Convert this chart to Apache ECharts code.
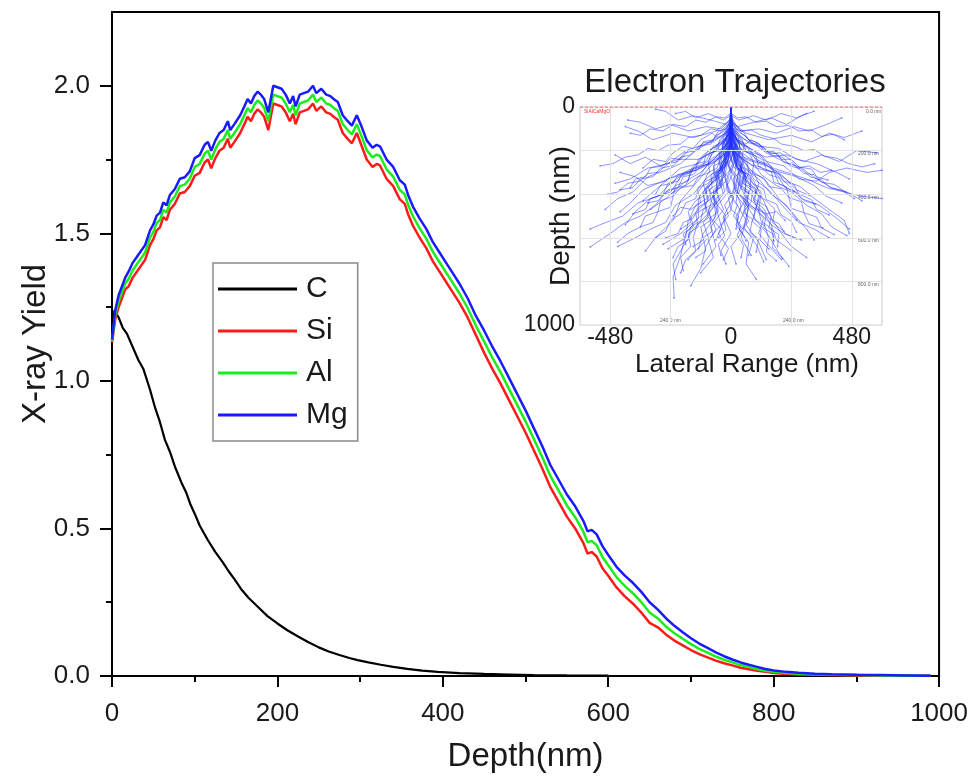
<!DOCTYPE html>
<html><head><meta charset="utf-8">
<script src="https://cdn.jsdelivr.net/npm/echarts@6/dist/echarts.min.js"></script>
<style>html,body{margin:0;padding:0;background:#fff}#c{width:971px;height:778px}</style>
</head><body><div id="c"></div>
<script>
// ---- main chart data ----
const depthC = [0,3,8,13,18,25,32,38,46,52,58,64,70,76,84,90,95,100,106,116,125,134,141,148,156,165,175,188,200,212,225,237,250,262,275,287,297,310,325,340,357,375,394,420,450,480,510,550,600];
const yieldC = [1.16,1.24,1.215,1.18,1.16,1.115,1.07,1.04,0.97,0.91,0.86,0.80,0.76,0.71,0.655,0.62,0.58,0.55,0.51,0.46,0.42,0.385,0.355,0.328,0.295,0.265,0.238,0.203,0.178,0.155,0.134,0.115,0.097,0.083,0.071,0.061,0.054,0.046,0.038,0.031,0.024,0.018,0.014,0.010,0.007,0.005,0.003,0.002,0.001];
const depthM = [0,4,8,12,16,20,25,30,35,40,46,50,54,58,62,66,70,76,82,88,94,100,106,112,116,120,125,130,135,140,143,148,155,160,164,168,172,176,180,184,189,195,200,205,210,215,219,222,227,232,237,243,247,253,259,264,268,273,279,285,290,296,302,308,315,320,324,332,340,348,354,358,364,372,380,388,396,404,412,420,430,440,450,460,470,480,490,500,510,520,530,540,550,560,570,575,580,586,593,600,610,620,630,640,650,660,670,680,690,700,710,720,730,740,750,760,770,780,790,800,815,830,850,870,900,930,960,990];
const yieldMg = [1.14,1.24,1.29,1.32,1.35,1.37,1.40,1.42,1.44,1.46,
1.51,1.53,1.56,1.57,1.605,1.595,1.63,1.65,1.685,1.69,
1.71,1.755,1.765,1.80,1.81,1.78,1.815,1.84,1.85,1.88,
1.85,1.87,1.90,1.93,1.955,1.94,1.965,1.98,1.97,1.955,
1.91,2.00,1.995,1.99,1.97,1.94,1.965,1.93,1.97,1.975,
1.98,2.00,1.975,1.99,1.97,1.965,1.955,1.945,1.90,1.88,
1.865,1.90,1.86,1.815,1.79,1.80,1.795,1.75,1.725,1.68,
1.665,1.63,1.59,1.55,1.515,1.47,1.435,1.40,1.365,1.33,
1.28,1.22,1.17,1.115,1.065,1.01,0.955,0.90,0.84,0.78,
0.715,0.665,0.615,0.575,0.525,0.49,0.495,0.48,0.44,0.41,
0.37,0.34,0.315,0.285,0.25,0.225,0.195,0.17,0.148,0.128,
0.11,0.095,0.08,0.067,0.056,0.046,0.038,0.031,0.024,0.019,
0.014,0.011,0.008,0.006,0.004,0.003,0.002,0.001];
const yieldAl = [1.135,1.225,1.27,1.30,1.33,1.345,1.375,1.395,1.415,1.435,
1.485,1.505,1.535,1.545,1.58,1.57,1.605,1.625,1.66,1.665,
1.685,1.725,1.735,1.77,1.78,1.75,1.785,1.81,1.82,1.85,
1.82,1.84,1.87,1.90,1.925,1.91,1.935,1.95,1.94,1.925,
1.88,1.97,1.965,1.96,1.94,1.91,1.935,1.90,1.94,1.945,
1.95,1.97,1.945,1.96,1.94,1.935,1.925,1.915,1.87,1.85,
1.835,1.87,1.827,1.782,1.757,1.767,1.762,1.717,1.692,1.647,
1.632,1.597,1.557,1.517,1.482,1.437,1.402,1.367,1.332,1.297,
1.247,1.187,1.133,1.078,1.028,0.973,0.918,0.863,0.803,0.743,
0.678,0.628,0.578,0.538,0.488,0.453,0.458,0.443,0.403,0.375,
0.335,0.305,0.28,0.25,0.215,0.195,0.167,0.145,0.126,0.108,
0.092,0.079,0.066,0.055,0.046,0.037,0.030,0.024,0.018,0.014,
0.010,0.008,0.006,0.004,0.003,0.002,0.001,0.001];
const yieldSi = [1.13,1.21,1.25,1.28,1.31,1.32,1.35,1.37,1.39,1.41,
1.46,1.48,1.51,1.52,1.555,1.545,1.58,1.60,1.635,1.64,
1.66,1.695,1.705,1.74,1.75,1.72,1.755,1.78,1.79,1.82,
1.79,1.81,1.84,1.87,1.895,1.88,1.905,1.92,1.91,1.895,
1.85,1.94,1.935,1.93,1.91,1.88,1.905,1.87,1.91,1.915,
1.92,1.94,1.915,1.93,1.91,1.905,1.895,1.885,1.84,1.82,
1.805,1.84,1.795,1.75,1.725,1.735,1.73,1.685,1.66,1.615,
1.60,1.565,1.525,1.485,1.45,1.405,1.37,1.335,1.30,1.265,
1.215,1.155,1.095,1.04,0.99,0.935,0.88,0.825,0.765,0.705,
0.64,0.59,0.54,0.50,0.45,0.415,0.42,0.405,0.365,0.34,
0.30,0.27,0.245,0.215,0.18,0.165,0.14,0.12,0.104,0.088,
0.074,0.063,0.052,0.043,0.036,0.028,0.023,0.018,0.014,0.010,
0.007,0.005,0.004,0.003,0.002,0.001,0.001,0.0005];
const seriesNames = ['C','Si','Al','Mg'];
const yTicks = [0,0.5,1,1.5,2];
const yMinorTicks = [0.25,0.75,1.25,1.75];

// ---- inset data: electron paths as "lateral,depth" points (nm) ----
const insetLateralRange = [-600, 600];
const insetXTicks = [-480,0,480];
const insetYTicks = [0,1000];
const insetGridDepths = [200,400,600,800];
const insetGridLateral = [-480,-240,240,480];
const trajectoryPaths = [
"0,0 5,80 -10,160 -60,230 -120,300 -180,340 -260,420 -320,470",
"0,0 -3,90 10,170 50,240 90,330 150,380 210,460 260,520",
"0,0 2,60 -20,140 -40,220 -30,320 -70,410 -60,500 -110,580 -130,650",
"0,0 4,100 25,180 40,260 30,350 70,440 60,540 110,620 140,700",
"0,0 -2,70 -30,130 -100,170 -180,200 -250,260 -330,280 -400,330 -460,350",
"0,0 3,80 40,140 110,180 190,190 260,240 340,260 420,300 470,330",
"0,0 -4,110 -15,200 -80,270 -140,350 -200,430 -230,520 -300,600 -340,660",
"0,0 6,120 20,210 80,290 140,340 190,420 240,480 300,560 330,610",
"0,0 0,90 -8,180 5,260 -20,340 10,420 -30,500 0,580 -40,660 -20,720",
"0,0 2,100 15,190 -10,270 30,350 20,440 60,520 40,600 80,680",
"0,0 -5,60 -60,110 -150,140 -230,120 -310,150 -370,110 -420,90",
"0,0 5,70 60,120 150,150 240,130 320,160 390,120 450,140 520,110",
"0,0 -3,130 -40,210 -90,260 -170,290 -240,350 -290,410 -370,440 -430,500 -520,540 -560,560",
"0,0 3,140 35,230 100,280 170,300 230,360 280,420 350,450 420,510 470,560",
"0,0 -1,150 -25,250 -60,330 -50,430 -100,500 -150,560 -190,640 -230,720 -220,790",
"0,0 1,160 30,250 60,340 50,430 100,520 150,590 190,670 230,730",
"0,0 -4,90 -50,170 -110,220 -160,300 -250,330 -300,380 -350,430",
"0,0 4,90 50,170 120,220 170,290 260,320 330,360 380,410 440,440",
"0,0 -2,50 -20,80 -80,60 -150,40 -210,60 -260,20 -300,10",
"0,0 2,50 25,90 90,70 160,50 220,80 280,40 330,20",
"0,0 0,120 -10,220 -50,300 -60,400 -120,460 -170,520 -180,600 -250,650",
"0,0 0,130 15,230 55,310 60,410 120,470 160,540 180,610 240,660",
"0,0 -3,100 -35,180 -20,260 -60,330 -110,390 -100,480 -150,530 -200,580 -270,630",
"0,0 3,110 40,190 20,270 70,330 120,390 110,480 160,540 210,580 280,610",
"0,0 -2,140 -30,240 -20,340 -70,400 -90,480 -60,560 -100,640 -120,740 -160,820",
"0,0 2,150 20,260 10,360 40,450 20,540 70,620 60,720 100,790",
"0,0 -6,80 -70,150 -140,200 -200,260 -260,290 -330,320 -390,390 -450,420 -500,470",
"0,0 6,80 70,150 140,210 210,250 280,280 340,330 400,370 460,390 520,430",
"0,0 -1,170 -35,270 -80,340 -130,420 -130,510 -180,580 -200,680 -230,780 -226,876",
"0,0 1,170 40,270 90,340 130,430 160,510 200,580 240,640 300,690",
"0,0 -3,60 -40,100 -100,90 -170,110 -240,80 -300,100 -360,70 -410,60",
"0,0 3,60 40,110 110,100 180,120 250,90 310,110 380,80 440,50",
"0,0 -2,190 -20,290 -60,380 -30,470 -80,550 -60,640 -110,720",
"0,0 2,190 30,290 20,380 70,460 50,550 100,630 130,710",
"0,0 -5,120 -60,200 -130,240 -210,240 -280,270 -340,230 -400,260 -460,220",
"0,0 5,120 60,200 140,230 220,220 290,250 360,220 430,250 500,200 580,210",
"0,0 -1,100 -15,200 -45,280 -100,330 -150,400 -220,450 -260,530 -320,560 -380,600 -450,640",
"0,0 1,100 15,200 50,280 110,330 160,400 220,450 270,530 330,560 390,600",
"0,0 -2,80 -25,160 -10,240 -50,300 -90,370 -60,440 -20,500 -50,580 -10,650 -30,700",
"0,0 2,80 25,160 10,240 50,300 80,370 50,440 20,500 40,580 0,640 20,720",
"0,0 -4,140 -50,230 -120,280 -200,320 -240,390 -320,420 -380,480 -420,540",
"0,0 4,140 50,230 130,260 200,310 260,380 320,410 390,470 450,520 470,580",
"0,0 0,60 -10,130 -60,180 -90,250 -150,280 -180,360 -240,400",
"0,0 0,60 10,130 60,180 100,240 160,270 190,350 250,390",
"0,0 -3,160 -10,250 -50,320 -30,400 -70,460 -110,530 -90,600 -140,660 -170,700",
"0,0 3,160 10,250 50,320 30,400 80,450 130,510 110,580 160,650 200,700",
"0,0 -2,110 -40,170 -90,200 -130,260 -200,280 -260,340 -330,360 -380,320 -440,300",
"0,0 2,110 40,170 90,200 140,250 210,270 270,330 340,340 390,300 460,280 540,300 600,290",
"0,0 -1,200 -30,300 -10,390 -60,460 -40,540 -90,610 -70,690 -120,760",
"0,0 1,200 30,300 10,390 60,460 30,540 90,600 70,680",
"0,0 -3,40 -30,60 -90,30 -140,50 -180,20 -220,30",
"0,0 3,40 30,60 90,40 140,60 200,30 260,50 300,30",
"0,0 -2,130 -30,200 -80,240 -120,310 -180,360 -250,380 -300,450 -360,500 -420,530 -480,580 -559,642",
"0,0 2,130 30,200 80,240 120,310 180,360 240,390 300,450 360,490 400,550 460,590",
"0,0 3,170 60,240 140,270 220,300 300,330 380,370 450,390 520,410 600,420",
"0,0 -3,170 -60,250 -140,290 -210,310 -290,350 -350,380 -400,440 -440,480",
"0,0 2,50 -6,100 4,150 -12,200 -40,230 -55,280 -90,300 -110,350 -100,400 -140,430 -170,480 -160,530 -200,560",
"0,0 -2,50 6,100 -4,150 12,200 40,230 55,280 90,300 110,350 100,400 140,430 175,470 165,530 210,570",
"0,0 1,40 -3,90 -20,120 -15,170 -45,200 -80,210 -100,250 -140,260 -170,300 -210,310 -230,350 -280,360 -300,400",
"0,0 -1,40 3,90 20,120 15,170 45,200 80,215 105,250 140,265 175,300 205,320 240,350 275,365 310,400",
"0,0 0,70 -10,130 5,180 -25,220 -20,270 -50,310 -35,360 -70,390 -60,440 -90,470 -80,520 -120,550 -110,610 -150,640",
"0,0 0,70 10,130 -5,180 25,220 20,270 50,310 35,360 70,395 60,445 95,475 85,525 120,560 115,610 150,650",
"0,0 -3,60 -25,110 -60,130 -80,170 -130,180 -160,220 -200,230 -230,270 -280,280 -310,320 -360,330 -390,370 -440,380",
"0,0 3,60 25,110 60,135 85,170 130,185 160,220 205,230 235,270 280,285 315,320 360,335 395,370 445,385 490,420",
"0,0 -1,110 -20,170 -10,220 -40,260 -30,310 -70,340 -100,380 -90,430 -130,460 -150,510 -190,530 -210,580 -260,600",
"0,0 1,110 20,170 10,220 40,260 30,310 70,345 100,380 90,430 130,465 150,510 190,535 215,580 260,605",
"0,0 -2,90 -15,150 -50,180 -45,230 -80,260 -120,270 -150,310 -190,320 -210,370 -260,390 -290,430 -330,440",
"0,0 2,90 15,150 50,180 45,230 80,265 120,275 150,310 190,325 215,370 260,390 290,430 335,445",
"0,0 0,100 -5,160 10,210 -10,260 5,310 -15,360 0,410 -25,450 -10,500 -40,540 -25,590 -50,630 -40,680",
"0,0 0,100 5,160 -10,210 10,260 -5,310 15,360 0,410 25,450 10,500 40,545 25,590 50,635 40,690",
"0,0 -4,70 -40,110 -80,100 -120,130 -170,140 -200,170 -250,175 -290,200 -330,190 -370,220 -420,230 -470,260 -520,270",
"0,0 4,70 40,110 80,105 120,130 170,145 200,170 250,180 290,200 330,195 370,225 420,235 470,260 520,275 570,260",
"0,0 -1,130 -25,190 -15,250 -55,290 -60,340 -100,370 -95,420 -140,450 -160,500 -150,550 -190,580 -180,630",
"0,0 1,130 25,190 15,250 55,290 60,345 100,375 95,425 140,455 160,505 150,555 190,585 185,640",
"0,0 -2,120 -30,160 -70,180 -90,220 -130,240 -140,290 -190,300 -210,340 -250,350 -270,400 -320,420 -340,470 -390,490",
"0,0 2,120 30,160 70,185 90,220 130,245 140,290 190,305 210,340 250,355 270,400 320,425 340,470 390,495",
"0,0 -3,150 -10,210 -45,240 -40,290 -80,310 -75,370 -110,400 -100,460 -140,490 -130,550 -170,580 -160,640 -200,690 -190,750",
"0,0 3,150 10,210 45,245 40,295 80,315 75,375 110,405 100,465 140,495 130,555 170,585 165,645 205,695",
"0,0 -2,30 -25,50 -60,45 -100,70 -140,60 -180,90 -230,80 -270,110 -320,100 -360,130 -400,120",
"0,0 2,30 25,50 60,45 100,70 140,65 180,90 230,85 270,110 320,105 360,135 405,125 450,150",
"0,0 -1,80 -12,140 -35,170 -30,220 -65,250 -70,300 -50,350 -85,380 -80,430 -55,470 -70,520 -40,560 -60,610",
"0,0 1,80 12,140 35,170 30,220 65,255 70,305 50,350 85,385 80,435 55,475 70,525 40,565 60,615",
"0,0 -3,100 -30,140 -35,190 -75,210 -90,250 -85,300 -130,320 -150,360 -200,370 -230,410 -240,460 -290,480 -310,530 -360,550",
"0,0 3,100 30,140 35,190 75,215 90,255 85,305 130,325 150,365 200,375 230,415 240,465 290,485 310,535 365,555",
"0,0 0,160 -20,230 -5,290 -35,330 -25,390 -60,420 -50,480 -85,510 -75,570 -110,600 -100,660 -140,690",
"0,0 0,160 20,230 5,290 35,335 25,395 60,425 50,485 85,515 75,575 110,605 100,665",
"0,0 -2,60 -18,100 -50,110 -70,150 -110,160 -130,200 -170,200 -200,240 -240,235 -270,270 -320,280 -340,320 -380,330 -400,370",
"0,0 2,60 18,100 50,115 70,150 110,165 130,200 170,205 200,240 240,240 270,275 320,285 340,320 385,335",
"0,0 -1,180 -15,250 -40,290 -35,350 -70,380 -65,440 -110,470 -120,520 -160,550 -170,610 -210,640 -230,690",
"0,0 1,180 15,250 40,295 35,355 70,385 65,445 110,475 120,525 160,555 170,615",
"0,0 -3,90 -35,130 -70,160 -110,165 -140,200 -185,210 -210,250 -250,260 -290,300 -330,305 -360,340 -410,350 -450,390 -490,400",
"0,0 3,90 35,130 70,165 110,170 140,205 185,215 210,255 250,265 290,305 330,310 360,345 410,355 455,390",
"0,0 -2,140 -28,210 -20,270 -60,300 -90,350 -130,370 -140,420 -180,440 -200,490 -240,520 -260,570 -300,600",
"0,0 2,140 28,210 20,275 60,305 90,355 130,375 140,425 180,445 200,495 240,525 260,575",
"0,0 -1,60 -5,110 -30,160 -20,210 -50,240 -40,290 -10,320 -20,380 10,410 0,470 30,500 20,560",
"0,0 1,60 5,110 30,160 20,210 50,245 40,295 10,325 20,385 -10,415 0,475 -30,505 -20,565 -50,600",
"0,0 -2,200 -30,260 -55,310 -40,370 -85,400 -100,450 -90,510 -135,540 -150,600 -140,660 -180,700 -200,760",
"0,0 2,200 30,260 55,315 40,375 85,405 100,455 90,515 135,545 150,605 140,665 180,705",
"0,0 -4,100 -45,150 -60,200 -100,220 -110,270 -160,290 -170,340 -220,360 -230,410 -280,430 -290,480 -340,500 -360,550 -410,580 -450,620",
"0,0 4,100 45,150 60,205 100,225 110,275 160,295 170,345 220,365 230,415 280,435 290,485 340,505 360,555 410,585",
"0,0 -1,90 -20,150 -5,200 -30,250 -70,270 -60,320 -100,340 -130,390 -120,440 -160,470 -200,460 -230,500",
"0,0 1,120 20,180 -5,230 15,280 55,300 45,350 85,370 115,410 100,460 140,490 180,480 215,520",
"0,0 -2,70 -20,120 -55,140 -75,120 -120,150 -150,190 -190,180 -230,210 -260,250 -310,240 -350,280",
"0,0 2,100 25,150 60,170 80,150 125,180 155,215 195,210 235,240 265,280 310,270 355,300 400,290"
];
const trajectories = trajectoryPaths.map(s => s.split(' ').map(p => p.split(',').map(Number)));
const trajectoryEnds = trajectories.map(t => t[t.length - 1]);

const FONT = "'Liberation Sans', Arial, Helvetica, sans-serif";
const TXT = '#1a1a1a';
const colors = {C:'#000000', Si:'#ff1a1a', Al:'#1aee1a', Mg:'#1a1aff'};
const pairs = (xs, ys) => xs.map((x, i) => [x, ys[i]]);

const chart = echarts.init(document.getElementById('c'), null, {renderer:'canvas'});
const mainLine = (name, data, width) => ({
  name, type:'line', xAxisIndex:0, yAxisIndex:0, data, symbol:'none', showSymbol:false,
  lineStyle:{color:colors[name], width}, itemStyle:{color:colors[name]}, z:3, silent:true
});

const option = {
  animation:false,
  backgroundColor:'#ffffff',
  textStyle:{fontFamily:FONT},
  title:{text:'Electron Trajectories', left:730, top:61, textAlign:'center',
    textStyle:{fontSize:33, fontWeight:'normal', color:TXT, fontFamily:FONT}},
  legend:{data:seriesNames, orient:'vertical', left:213, top:263, padding:[11,10,11,5],
    icon:'rect', itemWidth:79, itemHeight:3, itemGap:12, borderColor:'#8a8a8a', borderWidth:1.5,
    backgroundColor:'#fff', selectedMode:false,
    textStyle:{fontSize:30, lineHeight:30, color:TXT, fontFamily:FONT, padding:[0,0,0,4]}},
  grid:[
    {left:112, top:12, width:828, height:665, show:true, borderColor:'#000', borderWidth:2, containLabel:false},
    {left:580, top:107, width:302, height:218, show:true, borderColor:'#cccccc', borderWidth:1, containLabel:false}
  ],
  xAxis:[
    {type:'value', gridIndex:0, min:0, max:1000, interval:200,
     axisLine:{lineStyle:{color:'#000', width:2}},
     axisTick:{length:11, lineStyle:{color:'#000', width:2}},
     minorTick:{show:true, splitNumber:2, length:6, lineStyle:{color:'#000', width:2}},
     splitLine:{show:false}, minorSplitLine:{show:false},
     axisLabel:{fontSize:26, color:TXT, margin:25, fontFamily:FONT, formatter:v => String(v)},
     name:'Depth(nm)', nameLocation:'middle', nameGap:64,
     nameTextStyle:{fontSize:33, color:TXT, fontFamily:FONT}},
    {type:'value', gridIndex:1, min:insetLateralRange[0], max:insetLateralRange[1], interval:120,
     axisLine:{show:false, onZero:false}, axisTick:{show:false}, splitLine:{show:false},
     axisLabel:{customValues:insetXTicks, fontSize:23, color:TXT, margin:1, fontFamily:FONT,
       formatter:v => insetXTicks.indexOf(v) >= 0 ? String(v) : ''},
     name:'Lateral Range (nm)', nameLocation:'middle', nameGap:27, nameMoveOverlap:false,
     nameTextStyle:{fontSize:26, color:TXT, fontFamily:FONT, padding:[0,0,0,32]}}
  ],
  yAxis:[
    {type:'value', gridIndex:0, min:0, max:2.25, interval:0.5,
     axisLine:{show:true, lineStyle:{color:'#000', width:2}},
     axisTick:{show:true, customValues:yTicks, length:12, lineStyle:{color:'#000', width:2}},
     splitLine:{show:false},
     axisLabel:{customValues:yTicks, fontSize:26, color:TXT, margin:22, fontFamily:FONT,
       formatter:v => Number(v).toFixed(1)},
     name:'X-ray Yield', nameLocation:'middle', nameGap:60, nameMoveOverlap:false,
     nameTextStyle:{fontSize:33, color:TXT, fontFamily:FONT}},
    {type:'value', gridIndex:0, min:0, max:2.25, interval:0.25, position:'left',
     axisLine:{show:false}, splitLine:{show:false}, axisLabel:{show:false},
     axisTick:{show:true, customValues:yMinorTicks, length:6, lineStyle:{color:'#000', width:2}}},
    {type:'value', gridIndex:1, min:0, max:1000, interval:1000, inverse:true,
     axisLine:{show:false, onZero:false}, axisTick:{show:false}, splitLine:{show:false},
     axisLabel:{customValues:insetYTicks, fontSize:23, color:TXT, margin:5, fontFamily:FONT, formatter:v => String(v)},
     name:'Depth (nm)', nameLocation:'middle', nameGap:5, nameMoveOverlap:false,
     nameTextStyle:{fontSize:28, color:TXT, fontFamily:FONT}}
  ],
  graphic:[
    {type:'text', x:584, y:109, silent:true, style:{text:'SiAlCaMgO', fill:'#ff3030', font:"5px "+FONT}},
    {type:'text', x:866, y:109, silent:true, style:{text:'0.0 nm', fill:'#666', font:"5px "+FONT}},
    {type:'text', x:858, y:151, silent:true, style:{text:'200.0 nm', fill:'#666', font:"5px "+FONT}},
    {type:'text', x:858, y:195, silent:true, style:{text:'400.0 nm', fill:'#666', font:"5px "+FONT}},
    {type:'text', x:858, y:238, silent:true, style:{text:'600.0 nm', fill:'#666', font:"5px "+FONT}},
    {type:'text', x:858, y:282, silent:true, style:{text:'800.0 nm', fill:'#666', font:"5px "+FONT}},
    {type:'text', x:660, y:318, silent:true, style:{text:'240.0 nm', fill:'#666', font:"5px "+FONT}},
    {type:'text', x:783, y:318, silent:true, style:{text:'240.0 nm', fill:'#666', font:"5px "+FONT}}
  ],
  series:[
    {name:'insetGrid', type:'line', xAxisIndex:1, yAxisIndex:2, data:[[0,500]], symbol:'none',
     lineStyle:{opacity:0}, silent:true, z:1,
     markLine:{silent:true, symbol:'none', animation:false, label:{show:false},
       lineStyle:{color:'#e2e2e2', width:1, type:'solid'},
       data:[...insetGridDepths.map(v => ({yAxis:v})), ...insetGridLateral.map(v => ({xAxis:v}))]}},
    {name:'surface', type:'line', xAxisIndex:1, yAxisIndex:2, symbol:'none', silent:true, z:5,
     data:insetLateralRange.map(x => [x, 0]),
     lineStyle:{color:'#ff4a4a', width:1, type:[3,2]}},
    {name:'trajectories', type:'lines', coordinateSystem:'cartesian2d', xAxisIndex:1, yAxisIndex:2,
     polyline:true, silent:true, z:2,
     lineStyle:{color:'#2030ff', opacity:0.5, width:1},
     data:trajectories.map(t => ({coords:t}))},
    {name:'ends', type:'scatter', xAxisIndex:1, yAxisIndex:2, data:trajectoryEnds, symbolSize:2,
     itemStyle:{color:'#3040ff', opacity:0.45}, silent:true, z:2},
    mainLine('C', pairs(depthC, yieldC), 2.2),
    mainLine('Si', pairs(depthM, yieldSi), 2.5),
    mainLine('Al', pairs(depthM, yieldAl), 2.5),
    mainLine('Mg', pairs(depthM, yieldMg), 2.5)
  ]
};
chart.setOption(option);
</script>
</body></html>
